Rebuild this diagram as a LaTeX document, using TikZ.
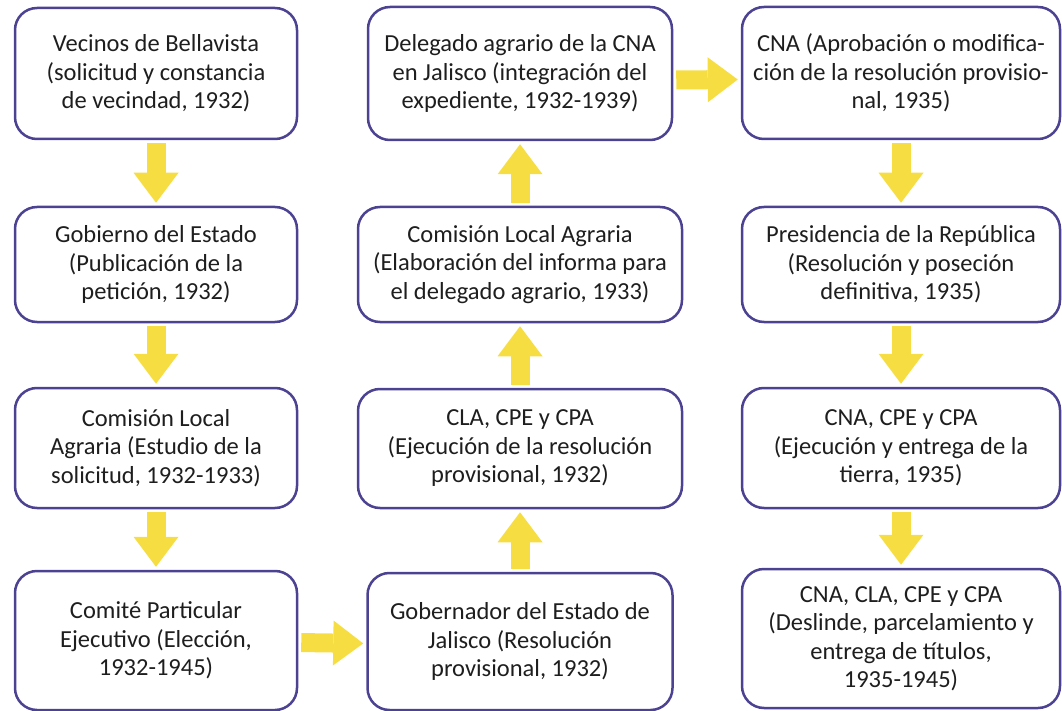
\documentclass[tikz,border=0pt]{standalone}
\usepackage{fontspec}
\setmainfont{Carlito}
\usepackage{tikz}
\usetikzlibrary{arrows.meta}
\definecolor{boxline}{RGB}{76,66,146}
\definecolor{arrowyellow}{RGB}{246,222,66}
\definecolor{textgray}{RGB}{30,30,30}

\begin{document}
\begin{tikzpicture}[x=1pt,y=-1pt,
        box/.style={draw=boxline,line width=2.5pt,rounded corners=22pt,fill=white,align=center,text=textgray,inner sep=0pt,font=\fontsize{24.5}{28.5}\selectfont},
        fatarrow/.style={color=arrowyellow,line width=19pt,-{Triangle[width=45pt,length=30pt,line width=0pt]},shorten <=3pt,shorten >=3pt}]
        \useasboundingbox (0,0) rectangle (1062,711);

        %first column
        \node[box,minimum width=282,minimum height=131] (vecinos) at (156,73.5){Vecinos de Bellavista\\(solicitud y constancia\\de vecindad, 1932)};
        \node[box,minimum width=282,minimum height=115] (gobierno) at (156,264.5){Gobierno del Estado\\(Publicación de la\\petición, 1932)};
        \node[box,minimum width=282,minimum height=120] (cla1) at (156,448){Comisión Local\\Agraria (Estudio de la\\solicitud, 1932-1933)};
        \node[box,minimum width=282,minimum height=139] (comite) at (156,640.5){Comité Particular\\Ejecutivo (Elección,\\1932-1945)};

        %second column
        \node[box,minimum width=305,minimum height=137] (gobernador) at (520,641.5){Gobernador del Estado de\\Jalisco (Resolución\\provisional, 1932)};
        \node[box,minimum width=324,minimum height=119] (ejecucion) at (520,448.5){CLA, CPE y CPA\\(Ejecución de la resolución\\provisional, 1932)};
        \node[box,minimum width=324,minimum height=115] (cla2) at (520,264.5){Comisión Local Agraria\\(Elaboración del informa para\\el delegado agrario, 1933)};
        \node[box,minimum width=304,minimum height=133] (delegado) at (520,73.5){Delegado agrario de la CNA\\en Jalisco (integración del\\expediente, 1932-1939)};

        %third column
        \node[box,minimum width=318,minimum height=132] (aprobacion) at (901,73){CNA (Aprobación o modifica-\\ción de la resolución provisio-\\nal, 1935)};
        \node[box,minimum width=318,minimum height=115] (presidencia) at (901,264.5){Presidencia de la República\\(Resolución y poseción\\definitiva, 1935)};
        \node[box,minimum width=318,minimum height=120] (entrega) at (901,448){CNA, CPE y CPA\\(Ejecución y entrega de la\\tierra, 1935)};
        \node[box,minimum width=318,minimum height=139] (deslinde) at (901,638.5){CNA, CLA, CPE y CPA\\(Deslinde, parcelamiento y\\entrega de títulos,\\1935-1945)};

        %arrows
        \draw[fatarrow] (vecinos)--(gobierno);
        \draw[fatarrow] (gobierno)--(cla1);
        \draw[fatarrow] (cla1)--(comite);
        \draw[fatarrow] ([yshift=-2pt]comite.east)--([yshift=-2pt]gobernador.west);
        \draw[fatarrow] (gobernador)--(ejecucion);
        \draw[fatarrow] (ejecucion)--(cla2);
        \draw[fatarrow] (cla2)--(delegado);
        \draw[fatarrow] ([yshift=-6.5pt]delegado.east)--([yshift=-6.5pt]aprobacion.west);
        \draw[fatarrow] (aprobacion)--(presidencia);
        \draw[fatarrow] (presidencia)--(entrega);
        \draw[fatarrow] (entrega)--(deslinde);
\end{tikzpicture}
\end{document}
